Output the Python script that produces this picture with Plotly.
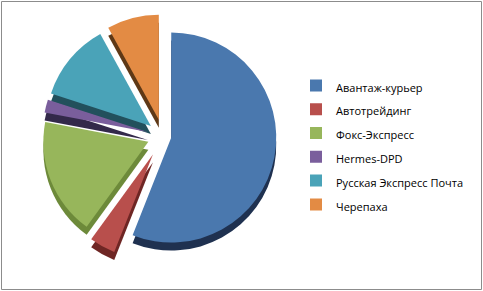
import plotly.graph_objects as go

companies = ["Авантаж-курьер", "Автотрейдинг", "Фокс-Экспресс", "Hermes-DPD",
             "Русская Экспресс Почта", "Черепаха"]
shares = [56, 4, 18, 2, 12, 8]

top_colors = ["#4A78AE", "#B84F4C", "#97B65B", "#7A5E9C", "#4AA3B8", "#E38B44"]
side_colors = ["#1F3150", "#6E2624", "#6D8A3A", "#33294A", "#22505C", "#5E3816"]
pulls = [0.08, 0.2, 0.15, 0.15, 0.15, 0.16]

W, H = 483, 291
cx, cy, half = 163, 136, 126
shift = 8

def dom(dy):
    return dict(x=[(cx - half) / W, (cx + half) / W],
                y=[1 - (cy + dy + half) / H, 1 - (cy + dy - half) / H])

fig = go.Figure()
fig.add_trace(go.Pie(labels=companies, values=shares, sort=False, direction="clockwise",
                     rotation=0, pull=pulls, domain=dom(shift), textinfo="none",
                     marker=dict(colors=side_colors, line=dict(width=0)),
                     showlegend=False, hoverinfo="skip"))
fig.add_trace(go.Pie(labels=[f'<span style="font-size:11px">{c}</span>' for c in companies],
                     values=shares, sort=False, direction="clockwise",
                     rotation=0, pull=pulls, domain=dom(0), textinfo="none",
                     marker=dict(colors=top_colors, line=dict(width=0))))

fig.update_layout(
    width=W, height=H, margin=dict(l=0, r=0, t=0, b=0),
    paper_bgcolor="white", plot_bgcolor="white",
    font=dict(family="Open Sans, Liberation Sans, sans-serif", color="#000000"),
    legend=dict(x=296 / W, xanchor="left", y=1 - 145 / H, yanchor="middle",
                font=dict(size=16), bgcolor="rgba(0,0,0,0)", itemclick=False),
    shapes=[dict(type="rect", xref="paper", yref="paper",
                 x0=1.5 / W, x1=1 - 1.5 / W, y0=1.5 / H, y1=1 - 1.5 / H,
                 line=dict(color="#8C8C8C", width=1))],
)
fig.write_html("out.html")
